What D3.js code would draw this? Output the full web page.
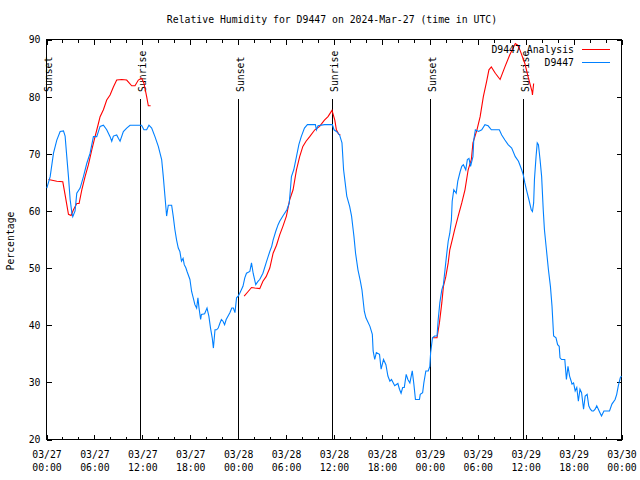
<!DOCTYPE html>
<html>
<head>
<meta charset="utf-8">
<script src="https://cdn.jsdelivr.net/npm/d3@7"></script>
<style>
  html, body { margin: 0; padding: 0; background: #fff; }
  svg { display: block; }
  text { font-family: "DejaVu Sans Mono", monospace; font-size: 9.8px; fill: #000; }
</style>
</head>
<body>
<svg id="chart" width="640" height="480"></svg>
<script>
// ---- Data (hours since 2024-03-27 00:00 UTC) ----
const titleText = "Relative Humidity for D9447 on 2024-Mar-27 (time in UTC)";
const yLabel = "Percentage";
const seriesNames = ["D9447 Analysis", "D9447"];
const seriesColors = ["#ff0000", "#0080ff"];
const yTicks = [20, 30, 40, 50, 60, 70, 80, 90];

// Observations (blue)
const obsHours = [
  0.04,0.46,0.875,1.29,1.71,2.125,2.33,2.54,2.75,2.96,3.17,3.29,3.58,3.79,4.21,4.625,5.04,5.46,5.875,6.29,
  6.71,7.125,7.54,7.96,8.17,8.375,8.79,9,9.21,9.625,10.04,10.46,11.3,11.9,12.2,12.54,12.83,13.17,13.58,14,
  14.42,14.625,14.83,15.04,15.25,15.67,15.875,16.08,16.29,16.5,16.7,16.9,17.1,17.25,17.46,17.6,17.96,18.17,18.375,18.58,
  18.8,18.96,19.1,19.3,19.4,19.8,20.1,20.33,20.54,20.75,20.9,21.1,21.3,21.5,21.7,21.9,22.1,22.3,22.5,22.96,
  23.2,23.4,23.6,23.8,24.0,24.2,24.4,24.6,24.83,25.04,25.46,25.67,25.875,26.2,26.5,26.7,27.1,27.5,27.75,27.96,
  28.2,28.375,28.7,29.0,29.2,29.6,30.1,30.4,30.67,30.96,31.3,31.6,31.9,32.3,32.67,33.17,33.67,33.8,34.0,34.8,
  35.8,36.0,36.3,36.7,37.0,37.2,37.4,37.6,37.96,38.2,38.4,38.5,38.7,39.0,39.3,39.5,39.8,40.0,40.5,40.8,
  40.9,41.1,41.3,41.7,41.9,42.2,42.5,42.75,43.0,43.2,43.6,44.0,44.2,44.4,44.6,44.8,45.04,45.25,45.5,45.8,
  46.0,46.2,46.7,46.8,47.1,47.25,47.5,47.8,48.0,48.1,48.2,48.33,48.6,48.9,49.05,49.25,49.5,49.7,49.9,50.1,
  50.3,50.5,50.7,50.8,51.0,51.3,51.5,51.8,52.0,52.2,52.5,52.7,52.9,53.1,53.4,53.5,53.7,54.1,54.5,54.9,
  55.3,55.7,56.2,56.7,57.0,57.4,57.8,58.25,58.7,59.1,59.5,59.7,59.9,60.1,60.4,60.7,60.85,61.0,61.1,61.3,
  61.45,61.6,61.8,62.0,62.2,62.35,62.6,62.85,63.1,63.3,63.5,63.8,64.0,64.2,64.3,64.5,64.9,65.1,65.3,65.5,
  65.7,65.8,66.0,66.2,66.4,66.6,66.8,67.0,67.25,67.45,67.7,67.9,68.1,68.3,68.5,68.7,68.9,69.1,69.3,69.5,
  69.8,70.2,70.5,70.8,71.2,71.4,71.6,71.85,72.0
];
const obsValues = [
  64,66,70.1,72.4,73.9,74,73.1,69.5,66,62,59.7,59,60,63.1,64,66,68.3,70.1,73,73,
  74.8,75,74.2,73,72.2,73.1,73.3,72.7,72.2,73.9,74.5,75,75,75,74.2,74.2,75,74.5,73,71.3,
  69,66,62.6,59.1,61,61,59,56.7,54.9,53.5,52.9,51.2,51.7,50.6,50,49.4,48,45.9,44.8,43.6,
  43,44.8,43,41,41.9,42,43,41.6,39.5,37.8,36,39.2,39.2,39.5,40.3,41,40.7,40.1,41,42.2,
  43,43,42.2,44.8,45.1,45.6,46.2,46.8,48.3,49.1,49.4,50.9,49.1,47.1,47.7,48,49.1,50.9,52,52.9,
  53.8,54.9,56.4,57.6,58.2,59.1,60.2,61.4,66,67.2,69.5,71.6,73,74.5,75.1,75.1,75.1,74.2,74.9,75.1,
  75.1,74.2,73.9,73.3,71.9,67.2,64.9,62.6,60.8,59.1,56.7,55.5,52.6,49.7,47.7,46.2,42.4,41.3,39.8,38.4,
  35.5,34,35.2,34.9,32.3,34,33.1,31.1,30.2,30.5,29.4,29.8,28.8,28.1,29.1,29.1,31.4,30.5,29.9,32,
  29.7,27,27,27.9,28.2,29.9,32,32,32.8,35.2,36.3,37.8,38.1,38.1,41,43.9,46.2,47.1,49.7,52.3,
  54.7,56.1,58.4,61.7,63.7,63.1,65.2,66.9,67.8,68.1,67.2,69,69.2,67.8,69.5,72.4,74.2,73.9,74.2,75.1,
  74.9,74.2,74.2,74.2,73.3,72.4,71.6,71,69.5,68.7,67.2,66.3,64.9,63.7,62,60.2,59.9,61.4,65.5,69.5,
  71.9,71.6,69,66,60.2,56.7,53.2,49.7,46.8,43.3,38.1,37.8,36.6,36.3,34.3,34,34,30.5,32.8,31.1,
  30.2,29.7,29.9,28.5,29.1,26.7,28.8,28.2,25.3,27.6,27.9,25.9,25.3,25,25,25.3,25.9,25.3,24.7,24.1,
  25,25,25,26.2,27,27.9,29.4,30.8,31.1
];

// Analysis (red), null separates the daily runs
const anaHours = [
  0.25,1.29,2.04,2.33,2.75,3.08,3.375,3.79,4.08,4.42,4.83,5.25,5.67,6.08,6.5,6.71,7.125,7.54,7.96,8.375,
  8.79,9.42,10.04,10.67,11.08,11.5,11.92,12.21,12.54,12.75,13.04,
  null,
  24.75,25.25,25.67,26.08,26.7,27.1,27.5,27.96,28.375,28.8,29.2,29.6,30.04,30.46,30.875,31.3,31.7,32.1,32.5,32.96,
  33.6,34.2,34.8,35.25,35.75,36.1,36.3,36.6,36.8,
  null,
  48.4,48.9,49.2,49.5,49.7,50.0,50.3,50.5,50.85,51.1,51.55,52.0,52.4,52.8,53.2,53.4,53.9,54.3,54.7,55.1,
  55.4,55.7,56.2,56.8,57.4,58.0,58.7,59.0,59.3,59.9,60.3,60.8,60.85,61.0
];
const anaValues = [
  65.5,65.2,65.1,62.8,59.4,59.2,60.2,61.3,61.3,63.7,66,68.1,70.7,73,75.3,76.5,77.7,79.4,80.3,81.7,
  82.9,83,82.9,81.9,81.9,82.9,83.2,82.3,80,78.4,78.4,
  null,
  45.1,45.9,46.6,46.5,46.4,47.7,48.5,50,52.6,54,55.8,57.3,59.1,62,63.7,67.2,69.5,71.3,72.2,73,
  74.2,74.8,75.9,76.5,77.6,75.9,74.2,73.4,73.3,
  null,
  37.8,37.8,40.4,43.9,46.8,48.5,50.9,53.2,55.2,56.7,59.1,61.4,63.7,67.2,69,71.9,74.2,76.5,80,82.6,
  84.7,85.2,84.1,83,85.2,87.3,89.3,89,88.1,85.8,83.5,80.9,80.3,82.3
];

// Sun events
const sunLabels = ["Sunset", "Sunrise", "Sunset", "Sunrise", "Sunset", "Sunrise"];
const sunHours = [0.03, 11.83, 24.03, 35.83, 48.03, 59.77];

// ---- Chart ----
(function () {
const t0 = Date.UTC(2024, 2, 27, 0, 0);
const toDate = h => new Date(t0 + h * 3600e3);
const pL = 46.5, pR = 621.5, pT = 39.5, pB = 439.5;

const svg = d3.select("#chart");
const x = d3.scaleUtc().domain([toDate(0), toDate(72)]).range([pL, pR]);
const y = d3.scaleLinear().domain([20, 90]).range([pB, pT]);

// Title
svg.append("text").attr("x", 332).attr("y", 23).attr("text-anchor", "middle").text(titleText);

// Y label
svg.append("text").attr("transform", "translate(13.5,241) rotate(-90)")
  .attr("text-anchor", "middle").text(yLabel);

function styleAxis(g) {
  g.attr("font-size", null).attr("font-family", null);
  g.select(".domain").remove();
  g.selectAll(".tick line").attr("stroke", "#000").attr("shape-rendering", "crispEdges");
}
const major = d3.utcHour.every(6), minor = d3.utcHour.every(2);
const fmtDate = d3.utcFormat("%m/%d"), fmtTime = d3.utcFormat("%H:%M");

// bottom minor & major
svg.append("g").attr("transform", `translate(0,${pB})`)
  .call(d3.axisBottom(x).ticks(minor).tickSizeInner(-3).tickSizeOuter(0).tickFormat(""))
  .call(styleAxis);
const gxb = svg.append("g").attr("transform", `translate(0,${pB})`)
  .call(d3.axisBottom(x).ticks(major).tickSizeInner(-5).tickSizeOuter(0).tickPadding(0))
  .call(styleAxis);
gxb.selectAll(".tick text")
  .each(function(d) {
    const t = d3.select(this).text(null).attr("y", 0).attr("dy", null);
    t.append("tspan").attr("x", 0).attr("y", 18).text(fmtDate(d));
    t.append("tspan").attr("x", 0).attr("y", 31).text(fmtTime(d));
  });

// top minor & major
svg.append("g").attr("transform", `translate(0,${pT})`)
  .call(d3.axisTop(x).ticks(minor).tickSizeInner(-3).tickSizeOuter(0).tickFormat(""))
  .call(styleAxis);
svg.append("g").attr("transform", `translate(0,${pT})`)
  .call(d3.axisTop(x).ticks(major).tickSizeInner(-5).tickSizeOuter(0).tickFormat(""))
  .call(styleAxis);

// left axis
const gyl = svg.append("g").attr("transform", `translate(${pL},0)`)
  .call(d3.axisLeft(y).tickValues(yTicks).tickSizeInner(-5).tickSizeOuter(0).tickPadding(0))
  .call(styleAxis);
gyl.selectAll(".tick text").attr("x", -6).attr("dy", "0.35em");
// right axis
svg.append("g").attr("transform", `translate(${pR},0)`)
  .call(d3.axisRight(y).tickValues(yTicks).tickSizeInner(-5).tickSizeOuter(0).tickFormat(""))
  .call(styleAxis);

// Frame
svg.append("rect").attr("x", pL).attr("y", pT)
  .attr("width", pR - pL).attr("height", pB - pT)
  .attr("fill", "none").attr("stroke", "#000").attr("shape-rendering", "crispEdges");

// Sun lines
const sunG = svg.append("g");
sunHours.forEach((h, i) => {
  const xx = Math.round(x(toDate(h)) - 0.5) + 0.5;
  sunG.append("line").attr("x1", xx).attr("x2", xx).attr("y1", 99).attr("y2", pB)
    .attr("stroke", "#000").attr("stroke-width", 1).attr("shape-rendering", "crispEdges");
  sunG.append("text").attr("transform", `translate(${xx + 5},92) rotate(-90)`)
    .attr("text-anchor", "start").text(sunLabels[i]);
});

// Lines
const line = d3.line()
  .defined(d => d[0] !== null && d[1] !== null)
  .x(d => x(toDate(d[0])))
  .y(d => y(d[1]));

const anaData = anaHours.map((h, i) => [h, anaValues[i]]);
const obsData = obsHours.map((h, i) => [h, obsValues[i]]);

svg.append("path").datum(anaData).attr("d", line)
  .attr("fill", "none").attr("stroke", seriesColors[0]).attr("stroke-width", 1.1);
svg.append("path").datum(obsData).attr("d", line)
  .attr("fill", "none").attr("stroke", seriesColors[1]).attr("stroke-width", 1.1);

// Legend
const legY = [49.5, 62.5];
seriesNames.forEach((name, i) => {
  svg.append("text").attr("x", 574).attr("y", legY[i]).attr("dy", "0.35em")
    .attr("text-anchor", "end").text(name);
  svg.append("line").attr("x1", 582).attr("x2", 610).attr("y1", legY[i]).attr("y2", legY[i])
    .attr("stroke", seriesColors[i]).attr("stroke-width", 1).attr("shape-rendering", "crispEdges");
});
})();
</script>
</body>
</html>
